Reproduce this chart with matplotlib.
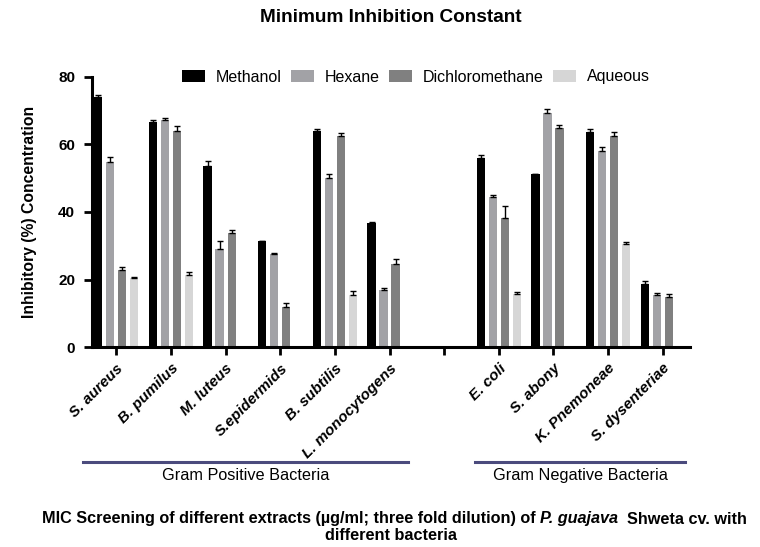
import numpy as np
import matplotlib
matplotlib.use("Agg")
import matplotlib.pyplot as plt
from matplotlib import font_manager
from matplotlib.transforms import blended_transform_factory

plt.rcParams['font.family'] = ['Liberation Sans', 'DejaVu Sans']

# data (empty slot between the two bacteria groups)
categories = ["S. aureus", "B. pumilus", "M. luteus", "S.epidermids", "B. subtilis",
              "L. monocytogens", "", "E. coli", "S. abony", "K. Pnemoneae", "S. dysenteriae"]
nan = np.nan
methanol = [74.1, 66.5, 53.6, 31.3, 63.9, 36.7, nan, 56.0, 51.1, 63.6, 18.7]
hexane = [54.9, 67.2, 29.0, 27.6, 50.0, 16.9, nan, 44.4, 69.1, 58.1, 15.5]
dichloro = [22.9, 63.8, 33.8, 11.9, 62.3, 24.6, nan, 38.2, 64.7, 62.5, 14.9]
aqueous = [20.4, 21.4, nan, nan, 15.5, nan, nan, 15.9, nan, 30.6, nan]

methanol_err = [0.6, 0.8, 1.4, 0.2, 0.7, 0.4, nan, 0.7, 0.1, 0.8, 1.0]
hexane_err = [1.2, 0.5, 2.4, 0.2, 1.1, 0.7, nan, 0.6, 1.3, 1.2, 0.5]
dichloro_err = [0.9, 1.5, 0.8, 1.3, 0.9, 1.4, nan, 3.7, 1.0, 1.0, 1.0]
aqueous_err = [0.5, 1.0, nan, nan, 1.0, nan, nan, 0.4, nan, 0.6, nan]

series = [("Methanol", methanol, methanol_err, "#000000"),
          ("Hexane", hexane, hexane_err, "#a2a2a6"),
          ("Dichloromethane", dichloro, dichloro_err, "#808080"),
          ("Aqueous", aqueous, aqueous_err, "#d6d6d6")]

fig = plt.figure(figsize=(7.6, 5.47), dpi=100)
ax = fig.add_axes([0.1207, 0.365, 0.7873, 0.495])

x = np.arange(len(categories))
step = 0.22
width = 0.15
for i, (name, vals, errs, col) in enumerate(series):
    pos = x + (i - 1.5) * step
    vals = np.array(vals, dtype=float)
    errs = np.array(errs, dtype=float)
    ax.bar(pos, vals, width, color=col, label=name, zorder=2)
    ax.errorbar(pos, vals, yerr=[np.zeros_like(errs), errs], fmt='none',
                ecolor='black', elinewidth=1, capsize=2, capthick=1, zorder=3)

ax.set_xlim(-0.45, 10.5)
ax.set_ylim(0, 80)
ax.set_yticks([0, 20, 40, 60, 80])
ax.set_xticks(x)
ax.set_xticklabels(categories, rotation=45, ha='right', rotation_mode='anchor',
                   fontsize=11, fontweight='bold', fontstyle='italic')
for lab in ax.get_yticklabels():
    lab.set_fontweight('bold')
    lab.set_fontsize(11)

for s in ['top', 'right']:
    ax.spines[s].set_visible(False)
for s in ['left', 'bottom']:
    ax.spines[s].set_linewidth(2.2)
ax.tick_params(axis='both', length=6, width=2, pad=6)
ax.tick_params(axis='x', pad=4)

ax.set_ylabel("Inhibitory (%) Concentration", fontsize=11.3, fontweight='bold', labelpad=15)

fig.legend(loc='center', bbox_to_anchor=(416 / 760, 1 - 77 / 547), ncol=4,
           frameon=False, fontsize=11.5, handlelength=1.4, handleheight=0.7,
           handletextpad=0.7, columnspacing=0.6)

fig.text(391 / 760, 1 - 18 / 547, "Minimum Inhibition Constant", ha='center', va='center',
         fontsize=13.7, fontweight='bold')

# group brackets under the tick labels
tr = blended_transform_factory(ax.transData, fig.transFigure)
yline = 1 - 462 / 547
ax.plot([-0.61, 5.34], [yline, yline], transform=tr, color='#4b4b7d', lw=2.2, clip_on=False)
ax.plot([6.57, 10.41], [yline, yline], transform=tr, color='#4b4b7d', lw=2.2, clip_on=False)
ax.text(2.37, yline - 0.011, "Gram Positive Bacteria", transform=tr, ha='center', va='top', fontsize=11.7)
ax.text(8.49, yline - 0.011, "Gram Negative Bacteria", transform=tr, ha='center', va='top', fontsize=11.7)

# caption is set in a narrow face when one is available
try:
    font_manager.findfont(font_manager.FontProperties(family='Liberation Sans Narrow'),
                          fallback_to_default=False)
    cap_family = ['Liberation Sans Narrow', 'DejaVu Sans']
    cap_size = 14
except ValueError:
    cap_family = ['Liberation Sans', 'DejaVu Sans']
    cap_size = 11.7

parts = [("MIC Screening of different extracts (µg/ml; three fold dilution) of ", 'normal'),
         ("P. guajava", 'italic'),
         ("  Shweta cv. with", 'normal')]
fig.canvas.draw()
renderer = fig.canvas.get_renderer()
cy = 1 - 519 / 547
texts = []
total = 0
for txt, style in parts:
    t = fig.text(0, cy, txt, fontsize=cap_size, fontweight='bold', fontstyle=style,
                 va='center', family=cap_family)
    w = t.get_window_extent(renderer).width
    texts.append((t, w))
    total += w
xpos = 394 - total / 2
for t, w in texts:
    t.set_x(xpos / 760)
    xpos += w
fig.text(391 / 760, 1 - 536 / 547, "different bacteria", ha='center', va='center',
         fontsize=cap_size, fontweight='bold', family=cap_family)

fig.savefig("out.png", dpi=100)
